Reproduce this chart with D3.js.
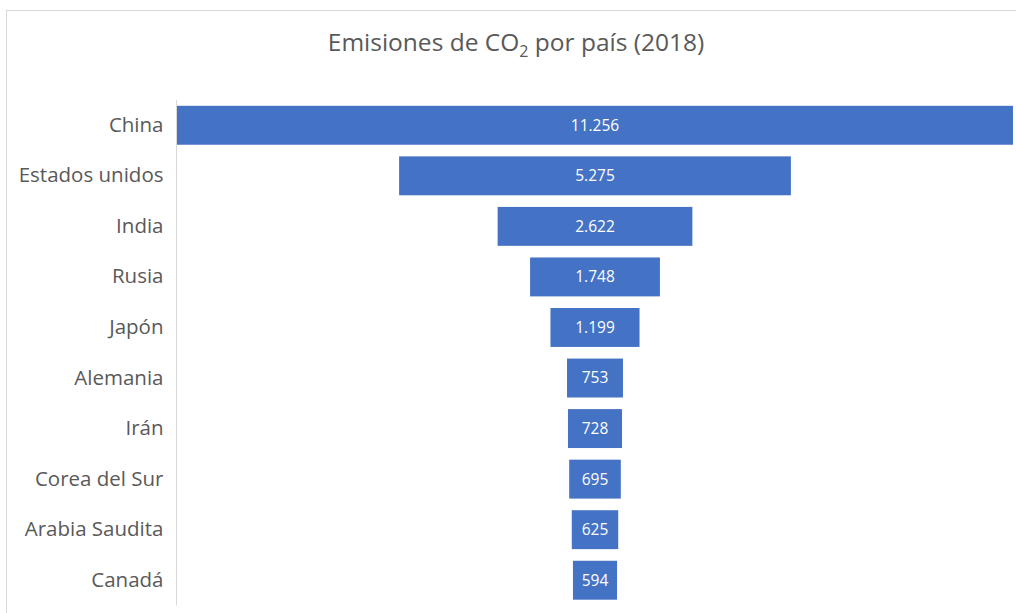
<!DOCTYPE html>
<html>
<head>
<meta charset="utf-8">
<script src="https://cdn.jsdelivr.net/npm/d3@7"></script>
<style>
  html, body { margin: 0; padding: 0; background: #ffffff; }
  svg { display: block; }
</style>
</head>
<body>
<svg id="chart" width="1016" height="613"></svg>
<script>
// CO2 emissions by country, 2018 (million tonnes)
const countries = ["China", "Estados unidos", "India", "Rusia", "Japón", "Alemania", "Irán", "Corea del Sur", "Arabia Saudita", "Canadá"];
const emissions = [11256, 5275, 2622, 1748, 1199, 753, 728, 695, 625, 594];
const valueLabels = ["11.256", "5.275", "2.622", "1.748", "1.199", "753", "728", "695", "625", "594"];

const data = countries.map((c, i) => ({ country: c, value: emissions[i], label: valueLabels[i] }));

const svg = d3.select("#chart");
const W = 1016, H = 613;
const plot = { left: 177, right: 1013, top: 100, bottom: 605.5 };
const centerX = (plot.left + plot.right) / 2;
const fontFamily = "'Open Sans', 'Noto Sans', sans-serif";

// chart area outline
svg.append("rect")
  .attr("x", 6.5).attr("y", 10.5)
  .attr("width", W + 20).attr("height", H + 20)
  .attr("fill", "#ffffff")
  .attr("stroke", "#d9d9d9")
  .attr("stroke-width", 1);

// title with subscript
const title = svg.append("text")
  .attr("x", 516).attr("y", 51)
  .attr("text-anchor", "middle")
  .attr("font-family", fontFamily)
  .attr("font-size", 24.5)
  .attr("fill", "#595959");
title.append("tspan").text("Emisiones de CO");
title.append("tspan").attr("dy", 6).attr("font-size", 16).text("2");
title.append("tspan").attr("dy", -6).text(" por país (2018)");

const y = d3.scaleBand()
  .domain(countries)
  .range([plot.top, plot.bottom])
  .paddingInner(0.23)
  .paddingOuter(0.115);

const w = d3.scaleLinear()
  .domain([0, d3.max(emissions)])
  .range([0, plot.right - plot.left]);

// category axis (labels only, with a thin vertical line)
const axis = d3.axisLeft(y).tickSize(0).tickPadding(13);
const gAxis = svg.append("g")
  .attr("transform", `translate(${plot.left - 0.5},0)`)
  .call(axis);
gAxis.select(".domain")
  .attr("stroke", "#d9d9d9")
  .attr("d", `M0,${plot.top}V${plot.bottom}`);
gAxis.selectAll("text")
  .attr("font-family", fontFamily)
  .attr("font-size", 20.5)
  .attr("fill", "#595959");

// funnel bars, centered on the plot
svg.append("g").selectAll("rect")
  .data(data)
  .join("rect")
  .attr("x", d => centerX - w(d.value) / 2)
  .attr("y", d => y(d.country))
  .attr("width", d => w(d.value))
  .attr("height", y.bandwidth())
  .attr("fill", "#4472c4");

// value labels inside bars
svg.append("g").selectAll("text")
  .data(data)
  .join("text")
  .attr("x", centerX)
  .attr("y", d => y(d.country) + y.bandwidth() / 2)
  .attr("dy", "0.35em")
  .attr("text-anchor", "middle")
  .attr("font-family", fontFamily)
  .attr("font-size", 15.5)
  .attr("fill", "#ffffff")
  .text(d => d.label);
</script>
</body>
</html>
